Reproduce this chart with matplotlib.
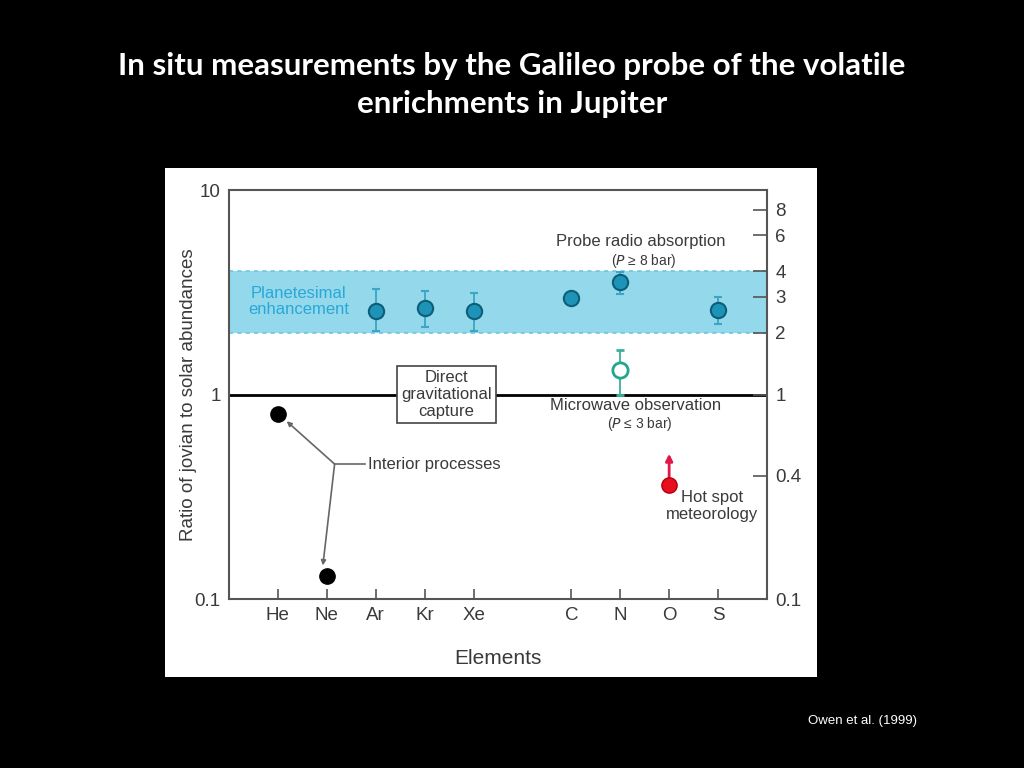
import matplotlib
matplotlib.use('Agg')
import matplotlib.pyplot as plt
from matplotlib.patches import Rectangle
from matplotlib.ticker import FixedLocator, NullLocator

#====================
# Data
#====================
elements = ['He', 'Ne', 'Ar', 'Kr', 'Xe', 'C', 'N', 'O', 'S']
positions = [0, 1, 2, 3, 4, 6, 7, 8, 9]

# interior processes (black)
interior_elems = ['He', 'Ne']
interior_vals = [0.80, 0.13]

# probe measurements (teal, filled)
probe_elems = ['Ar', 'Kr', 'Xe', 'C', 'N', 'S']
probe_vals = [2.55, 2.65, 2.55, 2.95, 3.55, 2.58]
probe_err_lo = [0.50, 0.52, 0.50, 0.0, 0.45, 0.38]
probe_err_hi = [0.72, 0.55, 0.60, 0.0, 0.42, 0.42]

# microwave observation (open circle)
micro_elem = 'N'
micro_val = 1.32
micro_err_lo = 0.32
micro_err_hi = 0.33

# hot spot (red, lower limit)
hot_elem = 'O'
hot_val = 0.36
hot_arrow_to = 0.53

band_lo, band_hi = 2, 4
right_ticks = [8, 6, 4, 3, 2, 1, 0.4, 0.1]
right_labels = ['8', '6', '4', '3', '2', '1', '0.4', '0.1']

pos = dict(zip(elements, positions))

#====================
# Figure
#====================
plt.rcParams['font.family'] = ['Liberation Sans', 'DejaVu Sans']
fig = plt.figure(figsize=(10.24, 7.68), dpi=100, facecolor='black')

fig.text(0.5, 0.889, 'In situ measurements by the Galileo probe of the volatile\nenrichments in Jupiter',
         ha='center', va='center', color='white', fontsize=22.5, fontweight='bold',
         family=['Lato', 'DejaVu Sans'], linespacing=1.45)
fig.text(0.842, 0.061, 'Owen et al. (1999)', ha='center', va='center', color='white', fontsize=9.5)

# white panel behind the chart
fig.patches.append(Rectangle((0.161, 0.1185), 0.637, 0.663, transform=fig.transFigure,
                             facecolor='white', edgecolor='none', zorder=-5))

ax = fig.add_axes([0.2236, 0.22, 0.5254, 0.5326])
ax.set_facecolor('white')
ax.set_yscale('log')
ax.set_ylim(0.1, 10)
ax.set_xlim(-1, 10)

grey = '#555555'
txt = '#3a3a3a'
fs = 12
for s in ax.spines.values():
    s.set_color(grey)
    s.set_linewidth(1.5)

# band
ax.axhspan(band_lo, band_hi, color='#93d8eb', zorder=1, lw=0)
for b in (band_lo, band_hi):
    ax.axhline(b, color='#6cc6e2', ls=(0, (2.5, 2.5)), lw=1.2, zorder=1.5)

ax.axhline(1, color='black', lw=2, zorder=2)

# points
ax.plot([pos[e] for e in interior_elems], interior_vals, 'o', color='black', ms=11, zorder=5)

px = [pos[e] for e in probe_elems]
ax.errorbar(px, probe_vals, yerr=[probe_err_lo, probe_err_hi], fmt='o', ms=11,
            mfc='#1d93b8', mec='#0d5e78', mew=1.5, ecolor='#3aa6c4', elinewidth=1.3,
            capsize=3, zorder=5)

ax.errorbar([pos[micro_elem]], [micro_val], yerr=[[micro_err_lo], [micro_err_hi]], fmt='o', ms=11,
            mfc='white', mec='#23a58e', mew=2, ecolor='#3bb09a', elinewidth=1.3, capsize=3, zorder=5)

ax.annotate('', xy=(pos[hot_elem], hot_arrow_to), xytext=(pos[hot_elem], hot_val),
            arrowprops=dict(arrowstyle='-|>', color='#e0184a', lw=2, mutation_scale=10), zorder=4)
ax.plot([pos[hot_elem]], [hot_val], 'o', color='#e8101e', mec='#b00010', ms=11, zorder=6)

# annotations
ax.text(0.43, 2.85, 'Planetesimal\nenhancement', ha='center', va='center', color='#2aa8d8',
        fontsize=fs, linespacing=1.15, zorder=6)
ax.text(7.41, 5.6, 'Probe radio absorption', ha='center', va='center', color=txt, fontsize=fs)
ax.text(7.49, 4.5, r'($\it{P}$ ≥ 8 bar)', ha='center', va='center', color=txt, fontsize=10)
ax.text(7.31, 0.88, 'Microwave observation', ha='center', va='center', color=txt, fontsize=fs)
ax.text(7.41, 0.72, r'($\it{P}$ ≤ 3 bar)', ha='center', va='center', color=txt, fontsize=10)
ax.text(8.88, 0.285, 'Hot spot\nmeteorology', ha='center', va='center', color=txt, fontsize=fs,
        linespacing=1.15)
ax.text(3.45, 1.0, 'Direct\ngravitational\ncapture', ha='center', va='center', color=txt,
        fontsize=fs, linespacing=1.15, zorder=6,
        bbox=dict(boxstyle='square,pad=0.25', fc='white', ec='#444444', lw=1.2))

# interior processes lines
bx, by = 1.16, 0.457
ax.plot([bx, 1.78], [by, by], color='#666666', lw=1.2, zorder=3)
ax.text(1.84, by, 'Interior processes', ha='left', va='center', color=txt, fontsize=fs)
for tx, ty in [(0.18, 0.74), (0.92, 0.146)]:
    ax.annotate('', xy=(tx, ty), xytext=(bx, by),
                arrowprops=dict(arrowstyle='-|>', color='#666666', lw=1.2, mutation_scale=7,
                                shrinkA=0, shrinkB=0), zorder=3)

# axes ticks
ax.set_xticks(positions)
ax.set_xticklabels(elements, fontsize=13.5, color=txt)
ax.tick_params(axis='x', direction='in', length=7, width=1.2, color=grey, pad=6)
ax.yaxis.set_major_locator(FixedLocator([0.1, 1, 10]))
ax.yaxis.set_minor_locator(NullLocator())
ax.set_yticklabels(['0.1', '1', '10'], fontsize=13.5, color=txt)
ax.tick_params(axis='y', length=0, pad=6)
ax.set_xlabel('Elements', fontsize=15, color=txt, labelpad=18)
ax.set_ylabel('Ratio of jovian to solar abundances', fontsize=13.5, color=txt, labelpad=-2)

ax2 = ax.twinx()
ax2.set_yscale('log')
ax2.set_ylim(0.1, 10)
ax2.yaxis.set_major_locator(FixedLocator(right_ticks))
ax2.yaxis.set_minor_locator(NullLocator())
ax2.set_yticklabels(right_labels, fontsize=13.5, color=txt)
ax2.tick_params(axis='y', direction='in', length=10, width=1.2, color=grey, pad=6)
for s in ax2.spines.values():
    s.set_visible(False)

fig.savefig('out.png', dpi=100, facecolor='black')
